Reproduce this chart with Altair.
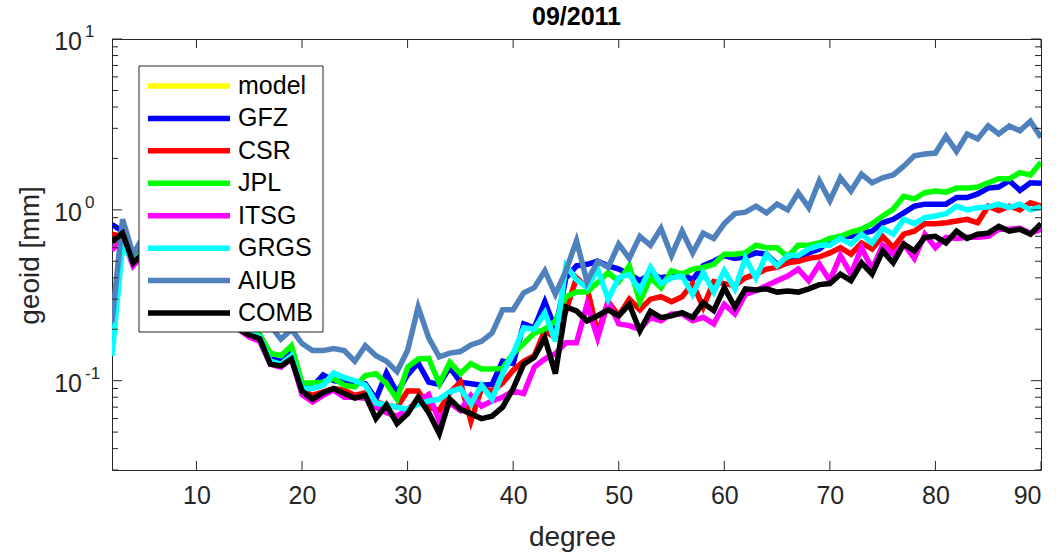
import altair as alt
import pandas as pd

degrees = list(range(2, 91))
series_names = ["model", "GFZ", "CSR", "JPL", "ITSG", "GRGS", "AIUB", "COMB"]
series_colors = ["#FFFF00", "#0000FF", "#FF0000", "#00FF00", "#FF00FF", "#00FFFF", "#4F81BD", "#000000"]
chart_title = "09/2011"

model = []  # not visible in the picture
gfz = [0.82, 0.75, 0.52, 0.6, 0.48, 0.5, 0.42, 0.4, 0.36, 0.33,
       0.3, 0.26, 0.22, 0.195, 0.185, 0.135, 0.13, 0.15, 0.095, 0.092,
       0.108, 0.1, 0.098, 0.098, 0.096, 0.078, 0.111, 0.085, 0.108, 0.127,
       0.098, 0.095, 0.12, 0.098, 0.096, 0.094, 0.095, 0.13, 0.126, 0.215,
       0.204, 0.29, 0.2, 0.4, 0.47, 0.48, 0.5, 0.47, 0.45, 0.42,
       0.385, 0.42, 0.4, 0.41, 0.42, 0.39, 0.47, 0.5, 0.54, 0.52,
       0.53, 0.56, 0.55, 0.48, 0.49, 0.52, 0.56, 0.59, 0.66, 0.69,
       0.7, 0.73, 0.75, 0.84, 0.88, 0.96, 1.05, 1.08, 1.08, 1.08,
       1.18, 1.18, 1.24, 1.34, 1.36, 1.48, 1.3, 1.44, 1.43]
csr = [0.72, 0.7, 0.5, 0.58, 0.46, 0.48, 0.4, 0.38, 0.34, 0.31,
       0.28, 0.25, 0.21, 0.19, 0.18, 0.13, 0.125, 0.14, 0.088, 0.082,
       0.086, 0.09, 0.088, 0.082, 0.085, 0.075, 0.072, 0.07, 0.087, 0.087,
       0.07, 0.067, 0.085, 0.098, 0.058, 0.09, 0.087, 0.097, 0.115, 0.13,
       0.14, 0.196, 0.178, 0.256, 0.4, 0.35, 0.19, 0.29, 0.24, 0.3,
       0.26, 0.3, 0.31, 0.29, 0.31, 0.37, 0.27, 0.38, 0.37, 0.36,
       0.4, 0.42, 0.45, 0.46, 0.49, 0.5, 0.52, 0.53, 0.56, 0.6,
       0.55, 0.64, 0.59, 0.7, 0.6, 0.72, 0.75, 0.83, 0.83, 0.84,
       0.86, 0.88, 0.84, 1.05, 0.99, 1.05, 1.0, 1.1, 1.05]
jpl = [0.65, 0.72, 0.5, 0.58, 0.47, 0.49, 0.41, 0.39, 0.35, 0.32,
       0.29, 0.26, 0.22, 0.195, 0.185, 0.145, 0.14, 0.16, 0.097, 0.097,
       0.098, 0.103, 0.094, 0.092, 0.107, 0.11, 0.096, 0.078, 0.12, 0.134,
       0.135, 0.096, 0.128, 0.11, 0.126, 0.117, 0.117, 0.118, 0.144, 0.165,
       0.19, 0.2, 0.224, 0.31, 0.33, 0.33, 0.375, 0.43, 0.38, 0.47,
       0.29, 0.4, 0.35, 0.44, 0.42, 0.45, 0.46, 0.48, 0.55, 0.55,
       0.56, 0.62, 0.6, 0.6, 0.53, 0.62, 0.62, 0.64, 0.68, 0.7,
       0.74, 0.77, 0.83, 0.92, 1.01, 1.2, 1.16, 1.26, 1.29, 1.27,
       1.34, 1.34, 1.36, 1.44, 1.52, 1.52, 1.65, 1.6, 1.9]
itsg = [0.58, 0.68, 0.47, 0.55, 0.44, 0.46, 0.38, 0.36, 0.33, 0.3,
        0.27, 0.24, 0.2, 0.18, 0.17, 0.125, 0.12, 0.135, 0.083, 0.075,
        0.082, 0.088, 0.08, 0.08, 0.079, 0.07, 0.065, 0.062, 0.068, 0.076,
        0.083, 0.058, 0.074, 0.067, 0.082, 0.071, 0.076, 0.08, 0.087, 0.084,
        0.12, 0.134, 0.144, 0.167, 0.167, 0.28, 0.178, 0.29, 0.215, 0.21,
        0.2, 0.234, 0.224, 0.246, 0.246, 0.224, 0.235, 0.215, 0.28, 0.246,
        0.32, 0.336, 0.36, 0.385, 0.41, 0.45, 0.385, 0.48, 0.385, 0.54,
        0.42, 0.6, 0.45, 0.62, 0.55, 0.63, 0.52, 0.72, 0.6, 0.69,
        0.68, 0.69, 0.69, 0.7, 0.77, 0.77, 0.78, 0.73, 0.77]
grgs = [0.14, 0.62, 0.5, 0.56, 0.45, 0.47, 0.39, 0.37, 0.34, 0.31,
        0.28, 0.25, 0.21, 0.19, 0.18, 0.13, 0.125, 0.14, 0.09, 0.09,
        0.094, 0.111, 0.104, 0.1, 0.094, 0.074, 0.072, 0.07, 0.068, 0.073,
        0.076, 0.078, 0.086, 0.09, 0.073, 0.094, 0.078, 0.11, 0.144, 0.204,
        0.2, 0.25, 0.17, 0.47, 0.39, 0.35, 0.45, 0.3, 0.4, 0.42,
        0.336, 0.46, 0.37, 0.4, 0.41, 0.32, 0.43, 0.33, 0.44, 0.345,
        0.52, 0.4, 0.55, 0.47, 0.54, 0.54, 0.59, 0.62, 0.62, 0.68,
        0.63, 0.72, 0.64, 0.78, 0.72, 0.88, 0.83, 0.9, 0.92, 0.95,
        1.05, 1.0, 1.03, 1.04, 1.08, 1.03, 1.08, 1.0, 1.04]
aiub = [0.22, 0.88, 0.55, 0.7, 0.55, 0.6, 0.5, 0.45, 0.4, 0.36,
        0.32, 0.28, 0.25, 0.23, 0.21, 0.21, 0.175, 0.2, 0.165, 0.15,
        0.15, 0.154, 0.15, 0.13, 0.16, 0.14, 0.13, 0.113, 0.15, 0.27,
        0.178, 0.138, 0.145, 0.148, 0.162, 0.17, 0.19, 0.26, 0.26, 0.327,
        0.35, 0.44, 0.32, 0.44, 0.66, 0.38, 0.5, 0.46, 0.63, 0.52,
        0.7, 0.62, 0.78, 0.54, 0.75, 0.56, 0.73, 0.68, 0.83, 0.95,
        0.97, 1.05, 0.96, 1.08, 1.0, 1.26, 1.03, 1.48, 1.13, 1.54,
        1.29, 1.62, 1.44, 1.54, 1.6, 1.8, 2.07, 2.12, 2.15, 2.7,
        2.2, 2.78, 2.6, 3.1, 2.78, 3.1, 2.9, 3.3, 2.65]
comb = [0.65, 0.73, 0.49, 0.56, 0.45, 0.47, 0.39, 0.37, 0.33, 0.3,
        0.27, 0.24, 0.2, 0.185, 0.176, 0.125, 0.122, 0.134, 0.087, 0.078,
        0.085, 0.09, 0.084, 0.079, 0.082, 0.06, 0.072, 0.056, 0.064, 0.08,
        0.065, 0.049, 0.078, 0.068, 0.064, 0.06, 0.062, 0.07, 0.09, 0.125,
        0.137, 0.178, 0.11, 0.27, 0.256, 0.224, 0.24, 0.26, 0.24, 0.28,
        0.196, 0.255, 0.234, 0.24, 0.25, 0.234, 0.285, 0.257, 0.35, 0.27,
        0.345, 0.34, 0.345, 0.33, 0.335, 0.33, 0.345, 0.365, 0.37, 0.42,
        0.385, 0.49, 0.42, 0.575, 0.49, 0.63, 0.575, 0.69, 0.7, 0.64,
        0.75, 0.68, 0.72, 0.73, 0.8, 0.75, 0.77, 0.72, 0.83]
series_values = [model, gfz, csr, jpl, itsg, grgs, aiub, comb]

x_tick_values = [10, 20, 30, 40, 50, 60, 70, 80, 90]
y_major_ticks = [0.1, 1, 10]
y_major_exponents = ["-1", "0", "1"]
y_minor_ticks = [0.03, 0.04, 0.05, 0.06, 0.07, 0.08, 0.09,
                 0.2, 0.3, 0.4, 0.5, 0.6, 0.7, 0.8, 0.9,
                 2, 3, 4, 5, 6, 7, 8, 9]

W, H = 929, 431
FONT = "Liberation Sans"
AX = "#262626"
LW = 5.5

x_scale = alt.Scale(domain=[2, 90], nice=False, zero=False)
y_scale = alt.Scale(type="log", domain=[0.03, 10], nice=False)

x_axis = alt.Axis(values=x_tick_values, ticks=False, tickSize=0, domain=False, grid=False,
                  labelFont=FONT, labelFontSize=25, labelColor=AX, labelPadding=13,
                  title="degree", titleFont=FONT, titleFontSize=28, titleFontWeight="normal",
                  titleColor=AX, titleX=460, titleY=67, titleBaseline="middle", titleAlign="center")
y_axis = alt.Axis(values=y_major_ticks, ticks=False, tickSize=0, domain=False, grid=False,
                  labels=False,
                  title="geoid [mm]", titleFont=FONT, titleFontSize=28, titleFontWeight="normal",
                  titleColor=AX, titleX=-82, titleY=216, titleAngle=270,
                  titleBaseline="middle", titleAlign="center")

X = alt.X("degree:Q", scale=x_scale, axis=x_axis)
Y = alt.Y("value:Q", scale=y_scale, axis=y_axis)

plot_layers = []
for name, color, vals in zip(series_names, series_colors, series_values):
    if len(vals) == 0:
        continue
    df = pd.DataFrame({"degree": degrees, "value": vals})
    plot_layers.append(
        alt.Chart(df).mark_line(color=color, strokeWidth=LW, clip=True).encode(x=X, y=Y)
    )

# inward ticks (MATLAB box style)
xt = pd.DataFrame({"degree": x_tick_values})
plot_layers.append(alt.Chart(xt).mark_rule(color=AX, strokeWidth=1).encode(
    x=X, y=alt.value(H), y2=alt.value(H - 9)))
plot_layers.append(alt.Chart(xt).mark_rule(color=AX, strokeWidth=1).encode(
    x=X, y=alt.value(0), y2=alt.value(9)))
ymaj = pd.DataFrame({"value": y_major_ticks, "exp": y_major_exponents})
ymin = pd.DataFrame({"value": y_minor_ticks})
for d, ln in [(ymaj, 10), (ymin, 6)]:
    plot_layers.append(alt.Chart(d).mark_rule(color=AX, strokeWidth=1).encode(
        y=Y, x=alt.value(0), x2=alt.value(ln)))
    plot_layers.append(alt.Chart(d).mark_rule(color=AX, strokeWidth=1).encode(
        y=Y, x=alt.value(W), x2=alt.value(W - ln)))

# y tick labels 10^n
plot_layers.append(alt.Chart(ymaj).mark_text(
    font=FONT, fontSize=25, color=AX, align="right", baseline="middle", dy=3).encode(
    y=Y, x=alt.value(-30), text=alt.value("10")))
plot_layers.append(alt.Chart(ymaj).mark_text(
    font=FONT, fontSize=17, color=AX, align="left", baseline="middle", dy=-7).encode(
    y=Y, x=alt.value(-27), text="exp:N"))

plot = alt.layer(*plot_layers)

# legend drawn as its own layer
leg_df = pd.DataFrame({"name": series_names, "color": series_colors})
leg_y = alt.Y("name:N", scale=alt.Scale(type="point", domain=series_names, range=[47, 274], padding=0), axis=None)
box = alt.Chart(pd.DataFrame({"a": [0]})).mark_rect(
    fill="white", stroke=AX, strokeWidth=1).encode(
    x=alt.value(27), x2=alt.value(211), y=alt.value(27), y2=alt.value(293))
leg_lines = alt.Chart(leg_df).mark_rule(strokeWidth=LW).encode(
    y=leg_y, x=alt.value(36), x2=alt.value(118), color=alt.Color("color:N", scale=None))
leg_text = alt.Chart(leg_df).mark_text(
    font=FONT, fontSize=25, color="black", align="left", baseline="middle").encode(
    y=leg_y, x=alt.value(126), text="name:N")
title_mark = alt.Chart(pd.DataFrame({"t": [chart_title]})).mark_text(
    font=FONT, fontSize=25, fontWeight="bold", color="black", align="center",
    baseline="alphabetic").encode(x=alt.value(W / 2), y=alt.value(-14), text="t:N")
legend = alt.layer(box, leg_lines, leg_text, title_mark)

chart = alt.layer(plot, legend).resolve_scale(y="independent").properties(
    width=W, height=H,
    padding={"left": 112, "top": 39, "right": 15, "bottom": 86},
    autosize=alt.AutoSizeParams(type="none"),
    background="white",
).configure_view(stroke=AX, strokeWidth=1)

chart.save("out.html", embed_options={"renderer": "svg", "actions": False})
